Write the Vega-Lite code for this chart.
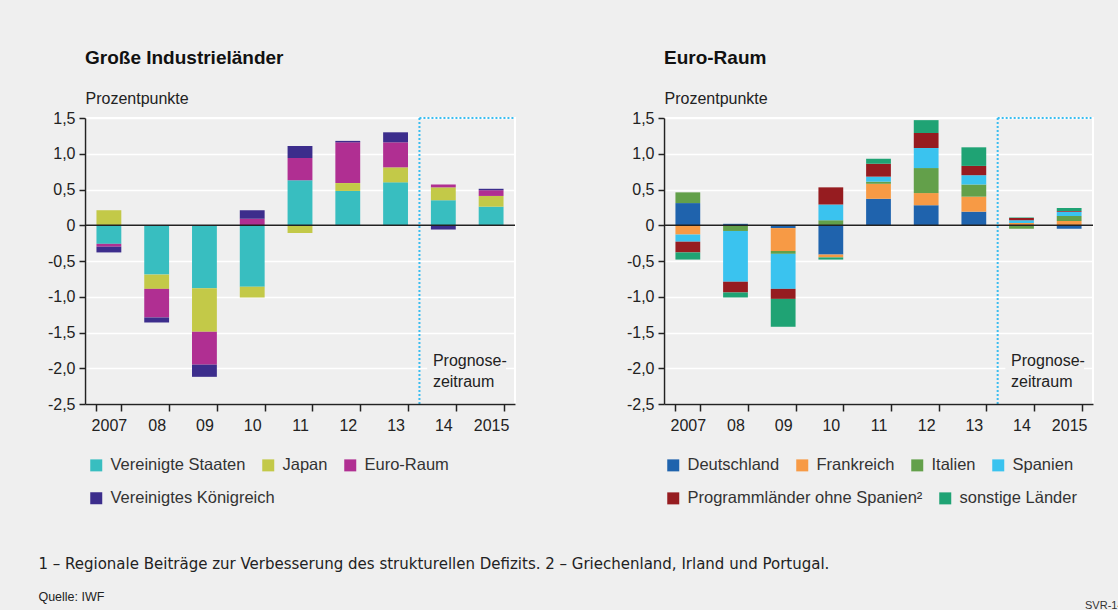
{
  "$schema": "https://vega.github.io/schema/vega-lite/v6.json",
  "background": "#efefef",
  "padding": {"top": 48, "left": 38, "right": 0, "bottom": 0},
  "config": {
    "font": "Liberation Sans",
    "view": {"stroke": "white", "strokeWidth": 2},
    "axis": {"labelFont": "Liberation Sans", "labelColor": "#222", "labelFontSize": 16, "domainColor": "#222", "tickColor": "#222", "domainWidth": 1.5, "tickWidth": 1.5, "labelOverlap": false},
    "legend": {"labelFontSize": 16.5, "labelColor": "#333", "symbolType": "square", "symbolSize": 144, "symbolStrokeWidth": 0, "direction": "horizontal", "columnPadding": 14, "labelOffset": 6, "title": null, "labelLimit": 400},
    "title": {"anchor": "start", "color": "#111"}
  },
  "datasets": {
    "links": [
      {"Jahr": "2007", "Land": "Vereinigte Staaten", "Wert": -0.26},
      {"Jahr": "2007", "Land": "Japan", "Wert": 0.21},
      {"Jahr": "2007", "Land": "Euro-Raum", "Wert": -0.04},
      {"Jahr": "2007", "Land": "Vereinigtes Königreich", "Wert": -0.08},
      {"Jahr": "08", "Land": "Vereinigte Staaten", "Wert": -0.69},
      {"Jahr": "08", "Land": "Japan", "Wert": -0.2},
      {"Jahr": "08", "Land": "Euro-Raum", "Wert": -0.4},
      {"Jahr": "08", "Land": "Vereinigtes Königreich", "Wert": -0.07},
      {"Jahr": "09", "Land": "Vereinigte Staaten", "Wert": -0.88},
      {"Jahr": "09", "Land": "Japan", "Wert": -0.61},
      {"Jahr": "09", "Land": "Euro-Raum", "Wert": -0.46},
      {"Jahr": "09", "Land": "Vereinigtes Königreich", "Wert": -0.17},
      {"Jahr": "10", "Land": "Vereinigte Staaten", "Wert": -0.86},
      {"Jahr": "10", "Land": "Japan", "Wert": -0.15},
      {"Jahr": "10", "Land": "Euro-Raum", "Wert": 0.09},
      {"Jahr": "10", "Land": "Vereinigtes Königreich", "Wert": 0.12},
      {"Jahr": "11", "Land": "Vereinigte Staaten", "Wert": 0.63},
      {"Jahr": "11", "Land": "Japan", "Wert": -0.11},
      {"Jahr": "11", "Land": "Euro-Raum", "Wert": 0.31},
      {"Jahr": "11", "Land": "Vereinigtes Königreich", "Wert": 0.17},
      {"Jahr": "12", "Land": "Vereinigte Staaten", "Wert": 0.48},
      {"Jahr": "12", "Land": "Japan", "Wert": 0.11},
      {"Jahr": "12", "Land": "Euro-Raum", "Wert": 0.57},
      {"Jahr": "12", "Land": "Vereinigtes Königreich", "Wert": 0.02},
      {"Jahr": "13", "Land": "Vereinigte Staaten", "Wert": 0.6},
      {"Jahr": "13", "Land": "Japan", "Wert": 0.21},
      {"Jahr": "13", "Land": "Euro-Raum", "Wert": 0.35},
      {"Jahr": "13", "Land": "Vereinigtes Königreich", "Wert": 0.14},
      {"Jahr": "14", "Land": "Vereinigte Staaten", "Wert": 0.35},
      {"Jahr": "14", "Land": "Japan", "Wert": 0.18},
      {"Jahr": "14", "Land": "Euro-Raum", "Wert": 0.04},
      {"Jahr": "14", "Land": "Vereinigtes Königreich", "Wert": -0.06},
      {"Jahr": "2015", "Land": "Vereinigte Staaten", "Wert": 0.26},
      {"Jahr": "2015", "Land": "Japan", "Wert": 0.15},
      {"Jahr": "2015", "Land": "Euro-Raum", "Wert": 0.08},
      {"Jahr": "2015", "Land": "Vereinigtes Königreich", "Wert": 0.02}
    ],
    "rechts": [
      {"Jahr": "2007", "Land": "Deutschland", "Wert": 0.31},
      {"Jahr": "2007", "Land": "Frankreich", "Wert": -0.13},
      {"Jahr": "2007", "Land": "Italien", "Wert": 0.15},
      {"Jahr": "2007", "Land": "Spanien", "Wert": -0.1},
      {"Jahr": "2007", "Land": "Programmländer ohne Spanien²", "Wert": -0.15},
      {"Jahr": "2007", "Land": "sonstige Länder", "Wert": -0.1},
      {"Jahr": "08", "Land": "Deutschland", "Wert": 0.02},
      {"Jahr": "08", "Land": "Frankreich", "Wert": -0.01},
      {"Jahr": "08", "Land": "Italien", "Wert": -0.07},
      {"Jahr": "08", "Land": "Spanien", "Wert": -0.71},
      {"Jahr": "08", "Land": "Programmländer ohne Spanien²", "Wert": -0.15},
      {"Jahr": "08", "Land": "sonstige Länder", "Wert": -0.07},
      {"Jahr": "09", "Land": "Deutschland", "Wert": -0.04},
      {"Jahr": "09", "Land": "Frankreich", "Wert": -0.32},
      {"Jahr": "09", "Land": "Italien", "Wert": -0.04},
      {"Jahr": "09", "Land": "Spanien", "Wert": -0.49},
      {"Jahr": "09", "Land": "Programmländer ohne Spanien²", "Wert": -0.14},
      {"Jahr": "09", "Land": "sonstige Länder", "Wert": -0.39},
      {"Jahr": "10", "Land": "Deutschland", "Wert": -0.41},
      {"Jahr": "10", "Land": "Frankreich", "Wert": -0.04},
      {"Jahr": "10", "Land": "Italien", "Wert": 0.07},
      {"Jahr": "10", "Land": "Spanien", "Wert": 0.22},
      {"Jahr": "10", "Land": "Programmländer ohne Spanien²", "Wert": 0.24},
      {"Jahr": "10", "Land": "sonstige Länder", "Wert": -0.03},
      {"Jahr": "11", "Land": "Deutschland", "Wert": 0.37},
      {"Jahr": "11", "Land": "Frankreich", "Wert": 0.21},
      {"Jahr": "11", "Land": "Italien", "Wert": 0.03},
      {"Jahr": "11", "Land": "Spanien", "Wert": 0.07},
      {"Jahr": "11", "Land": "Programmländer ohne Spanien²", "Wert": 0.18},
      {"Jahr": "11", "Land": "sonstige Länder", "Wert": 0.07},
      {"Jahr": "12", "Land": "Deutschland", "Wert": 0.28},
      {"Jahr": "12", "Land": "Frankreich", "Wert": 0.17},
      {"Jahr": "12", "Land": "Italien", "Wert": 0.35},
      {"Jahr": "12", "Land": "Spanien", "Wert": 0.28},
      {"Jahr": "12", "Land": "Programmländer ohne Spanien²", "Wert": 0.21},
      {"Jahr": "12", "Land": "sonstige Länder", "Wert": 0.18},
      {"Jahr": "13", "Land": "Deutschland", "Wert": 0.19},
      {"Jahr": "13", "Land": "Frankreich", "Wert": 0.21},
      {"Jahr": "13", "Land": "Italien", "Wert": 0.17},
      {"Jahr": "13", "Land": "Spanien", "Wert": 0.13},
      {"Jahr": "13", "Land": "Programmländer ohne Spanien²", "Wert": 0.13},
      {"Jahr": "13", "Land": "sonstige Länder", "Wert": 0.26},
      {"Jahr": "14", "Land": "Deutschland", "Wert": 0.0},
      {"Jahr": "14", "Land": "Frankreich", "Wert": 0.03},
      {"Jahr": "14", "Land": "Italien", "Wert": -0.05},
      {"Jahr": "14", "Land": "Spanien", "Wert": 0.04},
      {"Jahr": "14", "Land": "Programmländer ohne Spanien²", "Wert": 0.03},
      {"Jahr": "14", "Land": "sonstige Länder", "Wert": 0.01},
      {"Jahr": "2015", "Land": "Deutschland", "Wert": -0.05},
      {"Jahr": "2015", "Land": "Frankreich", "Wert": 0.06},
      {"Jahr": "2015", "Land": "Italien", "Wert": 0.07},
      {"Jahr": "2015", "Land": "Spanien", "Wert": 0.06},
      {"Jahr": "2015", "Land": "Programmländer ohne Spanien²", "Wert": 0.01},
      {"Jahr": "2015", "Land": "sonstige Länder", "Wert": 0.04}
    ],
    "rang_links": [
      {"Land": "Vereinigte Staaten", "Rang": 1},
      {"Land": "Japan", "Rang": 2},
      {"Land": "Euro-Raum", "Rang": 3},
      {"Land": "Vereinigtes Königreich", "Rang": 4}
    ],
    "rang_rechts": [
      {"Land": "Deutschland", "Rang": 1},
      {"Land": "Frankreich", "Rang": 2},
      {"Land": "Italien", "Rang": 3},
      {"Land": "Spanien", "Rang": 4},
      {"Land": "Programmländer ohne Spanien²", "Rang": 5},
      {"Land": "sonstige Länder", "Rang": 6}
    ],
    "hinweis": [{"label": "Prognose-\nzeitraum"}]
  },
  "title": {"text": "SVR-14-311", "orient": "bottom", "anchor": "end", "fontSize": 11, "fontWeight": "normal", "color": "#333", "offset": -4, "dx": 50},
  "vconcat": [
    {
      "title": {"text": "1 – Regionale Beiträge zur Verbesserung des strukturellen Defizits.  2 – Griechenland, Irland und Portugal.", "subtitle": "Quelle: IWF", "orient": "bottom", "anchor": "start", "font": "DejaVu Sans", "fontSize": 15, "fontWeight": "normal", "color": "#222", "subtitleFont": "Liberation Sans", "subtitleFontSize": 12.5, "subtitleColor": "#222", "subtitlePadding": 19, "offset": 49, "dx": -8},
      "spacing": 108,
      "resolve": {"scale": {"color": "independent"}, "legend": {"color": "independent"}},
      "hconcat": [
        {
          "width": 430,
          "height": 286,
          "title": {"text": "Große Industrieländer", "fontSize": 19, "fontWeight": "bold", "offset": 22, "frame": "group"},
          "resolve": {"scale": {"color": "independent"}, "legend": {"color": "independent"}},
          "layer": [
            {
              "data": {"name": "links"},
              "transform": [{"lookup": "Land", "from": {"data": {"name": "rang_links"}, "key": "Land", "fields": ["Rang"]}}],
              "mark": {"type": "bar"},
              "encoding": {
                "x": {"field": "Jahr", "type": "nominal", "scale": {"domain": ["2007", "08", "09", "10", "11", "12", "13", "14", "2015"], "paddingInner": 0.48, "paddingOuter": 0.24}, "axis": {"title": null, "labelAngle": 0, "tickBand": "extent", "tickSize": 7, "labelPadding": 6, "zindex": 1}},
                "y": {"field": "Wert", "type": "quantitative", "stack": "zero", "scale": {"domain": [-2.5, 1.5], "nice": false}, "axis": {"tickCount": 8, "format": ".1f", "labelOverlap": false, "labelExpr": "datum.value == 0 ? '0' : (datum.value < 0 ? '-' : '') + floor(abs(datum.value) + 0.001) + ',' + (round(abs(datum.value) * 10) % 10)", "title": "Prozentpunkte", "titleAngle": 0, "titleAlign": "left", "titleX": 0, "titleY": -15, "titleBaseline": "alphabetic", "titleFontWeight": "normal", "titleFontSize": 16, "titleColor": "#222", "grid": true, "gridColor": "white", "gridWidth": 1.5, "tickSize": 6, "labelPadding": 4}},
                "color": {"field": "Land", "type": "nominal", "scale": {"domain": ["Vereinigte Staaten", "Japan", "Euro-Raum", "Vereinigtes Königreich"], "range": ["#38bec0", "#c3c948", "#b02f92", "#3c2d8c"]}, "legend": {"orient": "none", "legendX": 3, "legendY": 339, "values": ["Vereinigte Staaten", "Japan", "Euro-Raum"]}},
                "order": {"field": "Rang", "type": "quantitative"}
              }
            },
            {
              "data": {"name": "rang_links"},
              "transform": [{"filter": "datum.Rang == 4"}],
              "mark": {"type": "bar"},
              "encoding": {
                "y": {"datum": 0},
                "y2": {"datum": 0},
                "color": {"field": "Land", "type": "nominal", "scale": {"domain": ["Vereinigtes Königreich"], "range": ["#3c2d8c"]}, "legend": {"orient": "none", "legendX": 3, "legendY": 372}}
              }
            },
            {
              "data": {"name": "hinweis"},
              "mark": {"type": "rect", "fill": "#efefef"},
              "encoding": {
                "x": {"datum": "14", "bandPosition": -0.15},
                "x2": {"datum": "2015", "bandPosition": 1.1},
                "y": {"datum": -1.8},
                "y2": {"datum": -2.35}
              }
            },
            {
              "data": {"name": "hinweis"},
              "mark": {"type": "text", "align": "left", "baseline": "top", "lineBreak": "\n", "lineHeight": 21, "fontSize": 16, "color": "#222", "dx": 2},
              "encoding": {
                "x": {"datum": "14", "bandPosition": 0},
                "y": {"datum": -1.79},
                "text": {"field": "label"}
              }
            },
            {
              "data": {"name": "hinweis"},
              "mark": {"type": "rule", "color": "#222", "strokeWidth": 1.5},
              "encoding": {"y": {"datum": 0}}
            },
            {
              "data": {"name": "hinweis"},
              "mark": {"type": "rule", "color": "#3bbdf0", "strokeWidth": 2, "strokeDash": [2, 2]},
              "encoding": {"x": {"datum": "14", "bandPosition": -0.4615}, "y": {"datum": 1.5}, "y2": {"datum": -2.5}}
            },
            {
              "data": {"name": "hinweis"},
              "mark": {"type": "rule", "color": "#3bbdf0", "strokeWidth": 2, "strokeDash": [2, 2]},
              "encoding": {"x": {"datum": "14", "bandPosition": -0.4615}, "x2": {"datum": "2015", "bandPosition": 1.4}, "y": {"datum": 1.5}}
            }
          ]
        },
        {
          "width": 429,
          "height": 286,
          "title": {"text": "Euro-Raum", "fontSize": 19, "fontWeight": "bold", "offset": 22, "frame": "group"},
          "resolve": {"scale": {"color": "independent"}, "legend": {"color": "independent"}},
          "layer": [
            {
              "data": {"name": "rechts"},
              "transform": [{"lookup": "Land", "from": {"data": {"name": "rang_rechts"}, "key": "Land", "fields": ["Rang"]}}],
              "mark": {"type": "bar"},
              "encoding": {
                "x": {"field": "Jahr", "type": "nominal", "scale": {"domain": ["2007", "08", "09", "10", "11", "12", "13", "14", "2015"], "paddingInner": 0.48, "paddingOuter": 0.24}, "axis": {"title": null, "labelAngle": 0, "tickBand": "extent", "tickSize": 7, "labelPadding": 6, "zindex": 1}},
                "y": {"field": "Wert", "type": "quantitative", "stack": "zero", "scale": {"domain": [-2.5, 1.5], "nice": false}, "axis": {"tickCount": 8, "format": ".1f", "labelOverlap": false, "labelExpr": "datum.value == 0 ? '0' : (datum.value < 0 ? '-' : '') + floor(abs(datum.value) + 0.001) + ',' + (round(abs(datum.value) * 10) % 10)", "title": "Prozentpunkte", "titleAngle": 0, "titleAlign": "left", "titleX": 0, "titleY": -15, "titleBaseline": "alphabetic", "titleFontWeight": "normal", "titleFontSize": 16, "titleColor": "#222", "grid": true, "gridColor": "white", "gridWidth": 1.5, "tickSize": 6, "labelPadding": 4}},
                "color": {"field": "Land", "type": "nominal", "scale": {"domain": ["Deutschland", "Frankreich", "Italien", "Spanien", "Programmländer ohne Spanien²", "sonstige Länder"], "range": ["#1f63ad", "#f79a45", "#63a04a", "#3ac3ef", "#961c20", "#1fa374"]}, "legend": {"orient": "none", "legendX": 1, "legendY": 339, "values": ["Deutschland", "Frankreich", "Italien", "Spanien"]}},
                "order": {"field": "Rang", "type": "quantitative"}
              }
            },
            {
              "data": {"name": "rang_rechts"},
              "transform": [{"filter": "datum.Rang >= 5"}],
              "mark": {"type": "bar"},
              "encoding": {
                "y": {"datum": 0},
                "y2": {"datum": 0},
                "color": {"field": "Land", "type": "nominal", "scale": {"domain": ["Programmländer ohne Spanien²", "sonstige Länder"], "range": ["#961c20", "#1fa374"]}, "legend": {"orient": "none", "legendX": 1, "legendY": 372}}
              }
            },
            {
              "data": {"name": "hinweis"},
              "mark": {"type": "rect", "fill": "#efefef"},
              "encoding": {
                "x": {"datum": "14", "bandPosition": -0.15},
                "x2": {"datum": "2015", "bandPosition": 1.1},
                "y": {"datum": -1.8},
                "y2": {"datum": -2.35}
              }
            },
            {
              "data": {"name": "hinweis"},
              "mark": {"type": "text", "align": "left", "baseline": "top", "lineBreak": "\n", "lineHeight": 21, "fontSize": 16, "color": "#222", "dx": 2},
              "encoding": {
                "x": {"datum": "14", "bandPosition": 0},
                "y": {"datum": -1.79},
                "text": {"field": "label"}
              }
            },
            {
              "data": {"name": "hinweis"},
              "mark": {"type": "rule", "color": "#222", "strokeWidth": 1.5},
              "encoding": {"y": {"datum": 0}}
            },
            {
              "data": {"name": "hinweis"},
              "mark": {"type": "rule", "color": "#3bbdf0", "strokeWidth": 2, "strokeDash": [2, 2]},
              "encoding": {"x": {"datum": "14", "bandPosition": -0.4615}, "y": {"datum": 1.5}, "y2": {"datum": -2.5}}
            },
            {
              "data": {"name": "hinweis"},
              "mark": {"type": "rule", "color": "#3bbdf0", "strokeWidth": 2, "strokeDash": [2, 2]},
              "encoding": {"x": {"datum": "14", "bandPosition": -0.4615}, "x2": {"datum": "2015", "bandPosition": 1.4}, "y": {"datum": 1.5}}
            }
          ]
        }
      ]
    }
  ]
}
